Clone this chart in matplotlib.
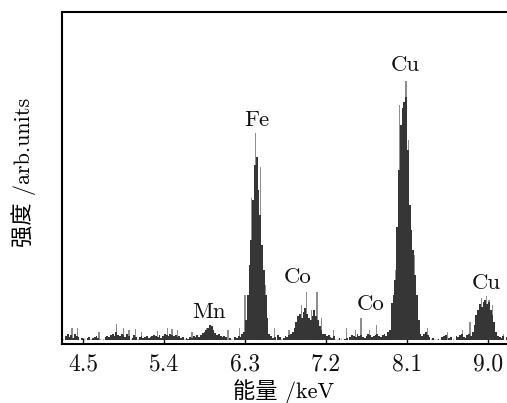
import numpy as np
import matplotlib
matplotlib.use("Agg")
import matplotlib.pyplot as plt

# ---------------- data (counts in arbitrary units) ----------------
E_START = 4.27     # first channel energy, keV
E_STEP = 0.02      # channel width, keV

noise_a = [0, 0, 4, 6, 3, 5, 2, 6, 4, 3,
           0, 2, 0, 0, 2, 3, 0, 2, 3, 4,
           2, 0, 0, 0, 3, 4, 3, 5, 6, 4,
           8, 5, 4, 6, 5, 3, 6, 4, 0, 2,
           5, 3, 0, 3, 4, 2, 3, 4, 2, 3,
           4, 5, 4, 3, 5, 2, 4, 6, 5, 4,
           6, 5, 4, 5, 3, 4, 2, 3, 0, 2,
           1, 3, 2, 4, 3, 5]                      # 4.27 - 5.77
mn_peak = [3, 5, 7, 8, 10, 12, 15, 14, 10, 7, 5, 6, 4, 3, 4]  # 5.79 - 6.07
noise_b = [3, 0, 2, 0, 0, 3, 2, 4, 3, 6]            # 6.09 - 6.27
fe_peak = [8, 20, 45, 75, 100, 140, 175, 183, 150, 125, 95, 70, 45, 22, 6]  # 6.29 - 6.57
noise_c = [4, 2, 3, 0, 5, 3, 0, 2, 4, 3, 5, 6]      # 6.59 - 6.81
co_peak = [8, 12, 18, 24, 26, 22, 28, 32, 26, 22, 20, 24, 30, 24, 20, 14, 10, 6]  # 6.83 - 7.17
noise_d = [6, 4, 5, 3, 2, 4, 0, 0, 2, 0,
           0, 1, 2, 0, 3, 5, 4, 3, 6, 4,
           5, 3, 2, 4, 6, 5, 3, 4, 5, 6,
           4, 3, 5, 6, 4, 8, 10]                    # 7.19 - 7.91
cu_peak = [37, 45, 60, 113, 170, 215, 232, 238, 243, 190, 135, 110, 90, 65, 45, 20, 6]  # 7.93 - 8.25
noise_e = [4, 6, 8, 5, 3, 0, 2, 0, 0, 1,
           0, 3, 4, 5, 0, 2, 3, 0, 0, 4,
           3, 5, 6, 3, 2, 5, 6, 4, 8]               # 8.27 - 8.83
cukb_peak = [15, 25, 30, 36, 33, 38, 40, 36, 38, 30, 25, 18, 8, 4]  # 8.85 - 9.11
noise_f = [3, 2, 4, 0, 3]                           # 9.13 - 9.21

# light-grey single-channel spikes (energy keV, height)
spike_energy = [4.38, 4.44, 4.68, 4.87, 4.95, 5.01, 5.08, 5.15, 5.33, 5.44,
                5.49, 5.55, 5.71, 5.87, 6.11, 6.24, 6.30, 6.37, 6.42, 6.47,
                6.53, 6.63, 6.79, 6.93, 6.98, 7.04, 7.10, 7.15, 7.28, 7.43,
                7.53, 7.59, 7.68, 7.76, 7.97, 8.02, 8.09, 8.12, 8.18, 8.33,
                8.55, 8.72, 8.80, 8.93, 8.98, 9.01, 9.05, 9.17]
spike_height = [12, 12, 8, 16, 12, 10, 11, 8, 9, 12,
                11, 10, 8, 12, 10, 12, 45, 142, 207, 173,
                55, 12, 10, 35, 48, 30, 48, 22, 10, 12,
                10, 22, 10, 15, 70, 235, 259, 200, 85, 12,
                8, 10, 18, 42, 44, 40, 35, 6]

tick_values = [4.5, 5.4, 6.3, 7.2, 8.1, 9.0]
tick_labels = ["4.5", "5.4", "6.3", "7.2", "8.1", "9.0"]

peak_names = ["Mn", "Fe", "Co", "Co", "Cu", "Cu"]
peak_label_x = [5.90, 6.433, 6.89, 7.70, 8.078, 8.98]
peak_label_y = [28, 220, 63, 36, 275, 57]

# ---------------- plotting ----------------
counts = np.array(noise_a + mn_peak + noise_b + fe_peak + noise_c + co_peak +
                  noise_d + cu_peak + noise_e + cukb_peak + noise_f, dtype=float)
energy = E_START + E_STEP * np.arange(len(counts))

plt.rcParams['font.family'] = ['cmr10', 'Noto Sans CJK SC', 'DejaVu Serif']
plt.rcParams['mathtext.fontset'] = 'cm'

fig = plt.figure(figsize=(5.07, 4.03), dpi=100)
ax = fig.add_axes([62/507, 59/403, 445/507, 332/403])

ax.axhline(1.0, color="#a8a8a8", lw=0.9, ls=(0, (1, 1.5)), zorder=1)
ax.bar(spike_energy, spike_height, width=0.015, color="#8e8e8e", lw=0, zorder=2)
ax.bar(energy, counts, width=E_STEP, color="#363636", lw=0, zorder=3)

for name, x, y in zip(peak_names, peak_label_x, peak_label_y):
    ax.text(x, y, name, ha="center", va="center", fontsize=16.5, color="#111111")

ax.set_xlim(4.267, 9.211)
ax.set_ylim(-4, 328)
ax.set_xticks(tick_values)
ax.set_xticklabels(tick_labels, fontsize=17)
ax.set_yticks([])
ax.tick_params(axis="x", direction="in", length=4, width=1, pad=7, top=False,
               colors="#111111")
for side in ["left", "top", "bottom"]:
    ax.spines[side].set_linewidth(1.5)
ax.spines["right"].set_visible(False)

fig.text(284/507, 1 - 392/403, "能量 /keV", ha="center", va="center", fontsize=16)
fig.text(24/507, 1 - 172/403, "强度 /arb.units", ha="center", va="center",
         rotation=90, fontsize=16)

fig.savefig("out.png", dpi=100)
